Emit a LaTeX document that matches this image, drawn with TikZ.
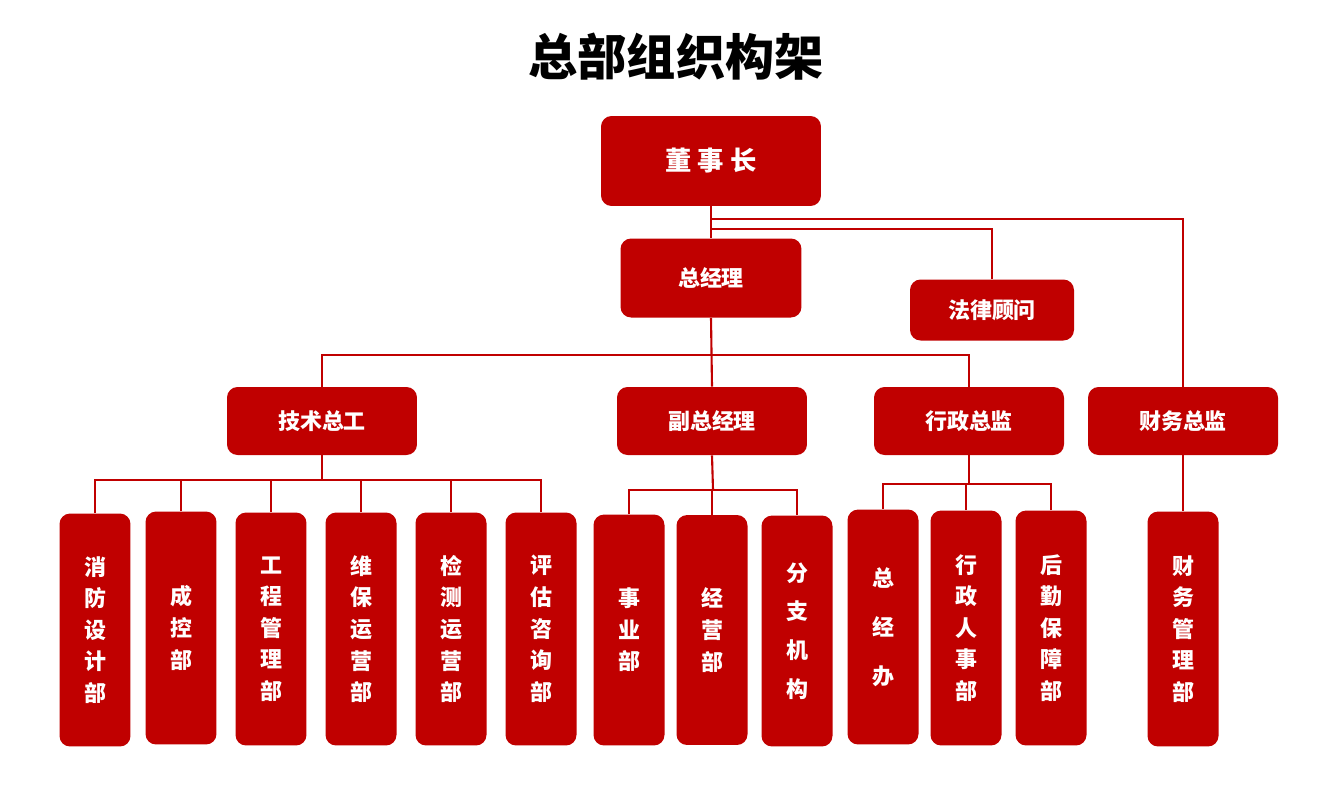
\documentclass[tikz,border=0pt]{standalone}
\usepackage{fontspec}
\newfontfamily\cjk{Noto Sans CJK SC}
\definecolor{dred}{HTML}{C00000}
\begin{document}
\begin{tikzpicture}[x=0.02cm,y=-0.02cm,
 box/.style={fill=dred,rounded corners=6pt,text=white,font=\cjk\bfseries\fontsize{12.5}{18}\selectfont,inner sep=0pt,align=center},
 vb/.style={box,minimum width=1.42cm,minimum height=4.66cm},
 ln/.style={draw=dred,line width=1.2pt}]
\useasboundingbox (0,0) rectangle (1327,785);
\node[font=\cjk\bfseries\fontsize{28}{30}\selectfont] (title) at (676,57) {总部组织构架};
\node[box,minimum width=4.4cm,minimum height=1.8cm,font=\cjk\bfseries\fontsize{15}{18}\selectfont] (dsz) at (711,161) {董\ 事\ 长};
\node[box,minimum width=3.62cm,minimum height=1.58cm] (zjl) at (711,278) {总经理};
\node[box,minimum width=3.28cm,minimum height=1.22cm] (flgw) at (992,310) {法律顾问};
\node[box,minimum width=3.8cm,minimum height=1.36cm] (js) at (322,421) {技术总工};
\node[box,minimum width=3.8cm,minimum height=1.36cm] (fz) at (712,421) {副总经理};
\node[box,minimum width=3.8cm,minimum height=1.36cm] (xz) at (969,421) {行政总监};
\node[box,minimum width=3.8cm,minimum height=1.36cm] (cw) at (1183,421) {财务总监};
\node[vb] (b1) at (95,630) {消\\防\\设\\计\\部};
\node[vb] (b2) at (181,628) {成\\控\\部};
\node[vb] (b3) at (271,629) {工\\程\\管\\理\\部};
\node[vb] (b4) at (361,629) {维\\保\\运\\营\\部};
\node[vb] (b5) at (451,629) {检\\测\\运\\营\\部};
\node[vb] (b6) at (541,629) {评\\估\\咨\\询\\部};
\node[vb,minimum height=4.62cm] (b7) at (629,630) {事\\业\\部};
\node[vb,minimum height=4.6cm] (b8) at (712,630) {经\\营\\部};
\node[vb,minimum height=4.62cm] (b9) at (797,631) {分\\[4pt]支\\[4pt]机\\[4pt]构};
\node[vb,minimum height=4.7cm] (b10) at (883,627) {总\\[10pt]经\\[10pt]办};
\node[vb,minimum height=4.7cm] (b11) at (966,628) {行\\政\\人\\事\\部};
\node[vb,minimum height=4.7cm] (b12) at (1051,628) {后\\勤\\保\\障\\部};
\node[vb,minimum height=4.7cm] (b13) at (1183,629) {财\\务\\管\\理\\部};
\coordinate (t1) at (711,219);
\coordinate (t2) at (711,229);
\coordinate (m1) at (712,355);
\coordinate (h1) at (322,480);
\coordinate (h2) at (713,490);
\coordinate (h3) at (969,484);
\draw[ln] (dsz.south) -- (zjl.north);
\draw[ln] (cw.north) |- (t1);
\draw[ln] (flgw.north) |- (t2);
\draw[ln] (zjl.south) -- (fz.north);
\draw[ln] (js.north) |- (m1);
\draw[ln] (xz.north) |- (m1);
\draw[ln] (js.south) -- (h1);
\foreach \b in {b1,b2,b3,b4,b5,b6} \draw[ln] (\b.north) |- (h1);
\draw[ln] (fz.south) -- (h2);
\foreach \b in {b7,b8,b9} \draw[ln] (\b.north) |- (h2);
\draw[ln] (xz.south) -- (h3);
\foreach \b in {b10,b11,b12} \draw[ln] (\b.north) |- (h3);
\draw[ln] (cw.south) -- (b13.north);
\end{tikzpicture}
\end{document}
